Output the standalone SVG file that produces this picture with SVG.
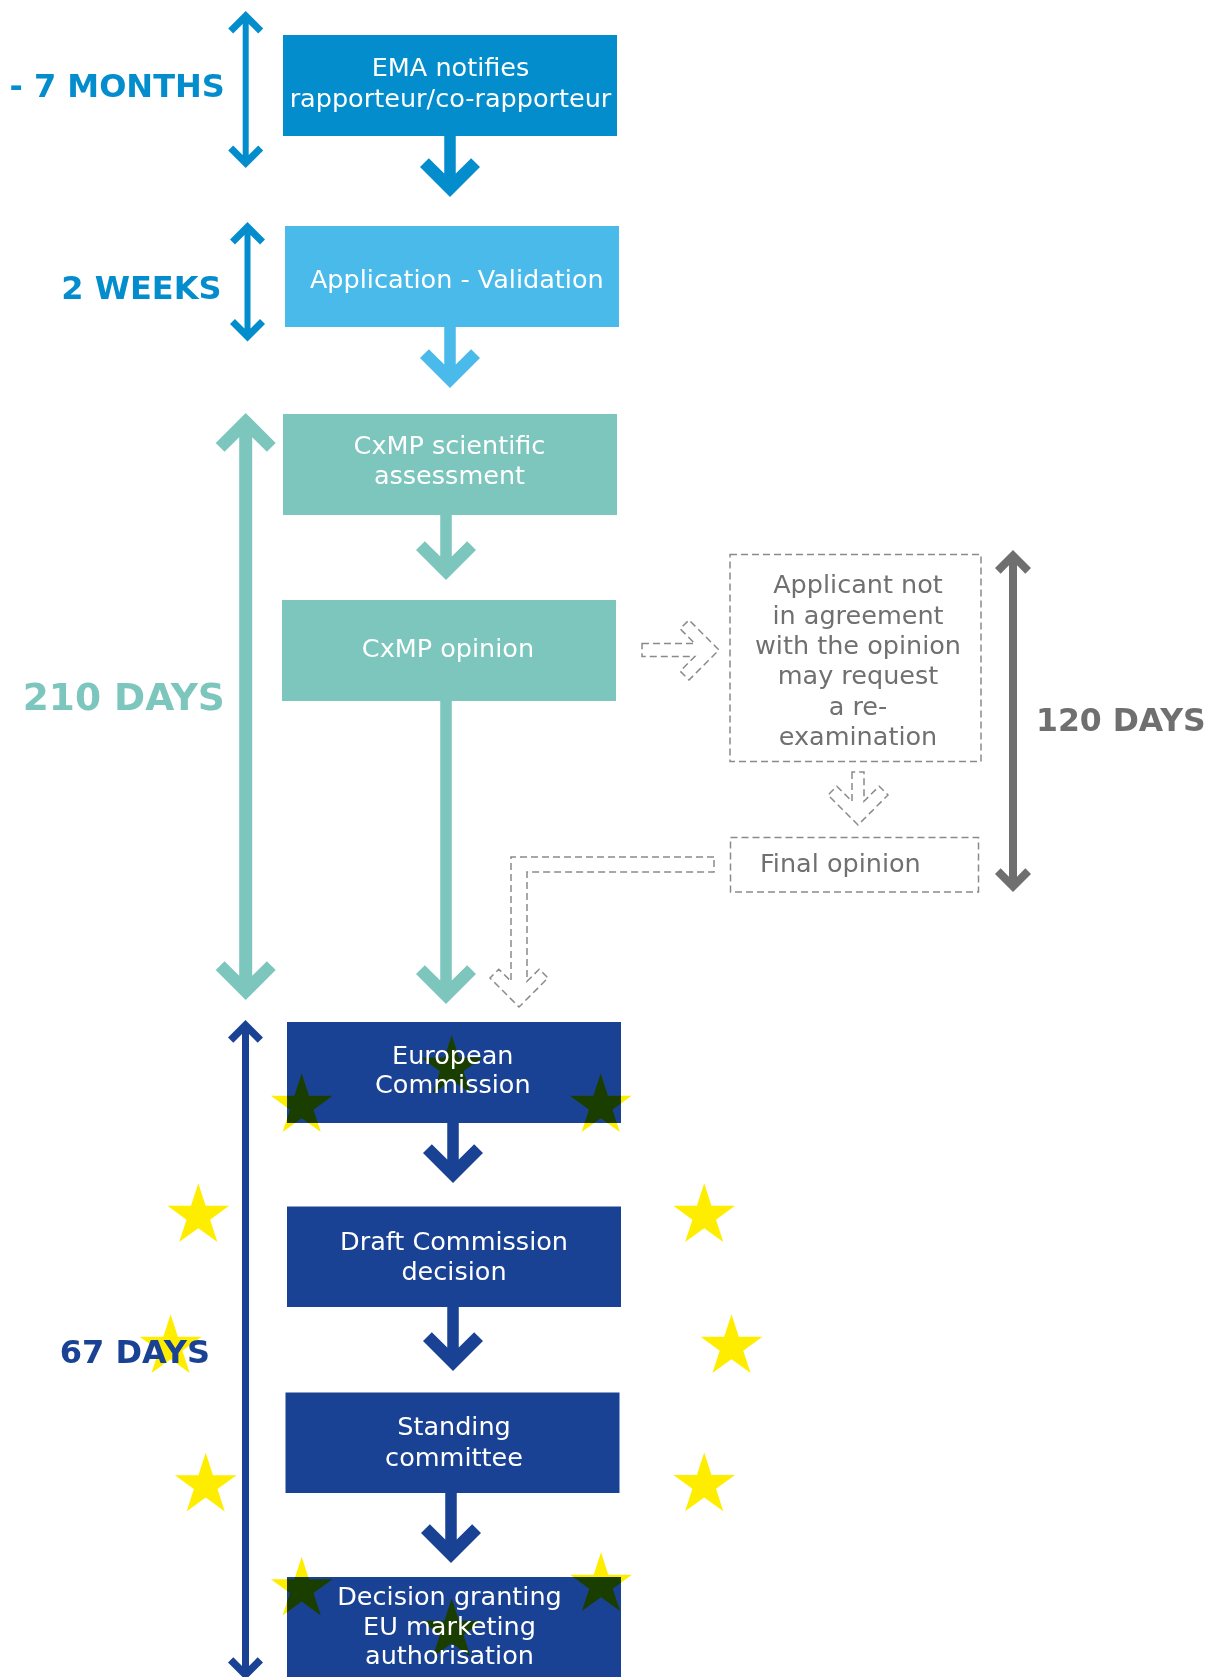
<svg xmlns="http://www.w3.org/2000/svg" xmlns:xlink="http://www.w3.org/1999/xlink" width="1218" height="1677" viewBox="0 0 1218 1677">
<style>
  .box-text { font-family: "DejaVu Sans", Verdana, sans-serif; font-size: 25.5px; fill: #ffffff; text-anchor: middle; }
  .dash-text { font-family: "DejaVu Sans", Verdana, sans-serif; font-size: 25.5px; fill: #707070; }
  .label { font-family: "DejaVu Sans", Verdana, sans-serif; font-weight: bold; }
  .blue { fill: #048dcd; }
  .lblue { fill: #49baea; }
  .teal { fill: #7cc6bd; }
  .navy { fill: #1a4294; }
  .grey { fill: #6f6f6f; }
  .dashed { fill: none; stroke: #8a8a8a; stroke-width: 1.5; stroke-dasharray: 7 4; }
  .star { fill: #ffed00; mix-blend-mode: multiply; }
</style>
<defs>
  <path id="star" d="M0,-32.5 L7.29,-10.04 L30.91,-10.04 L11.8,3.83 L19.1,26.29 L0,12.41 L-19.1,26.29 L-11.8,3.83 L-30.91,-10.04 L-7.29,-10.04 Z"/>
</defs>
<rect x="0" y="0" width="1218" height="1677" fill="#ffffff"/>

<g id="connectors">
  <!-- timeline double arrows -->
  <path class="blue" d="M245.7,11 L263.2,28.5 L258.25,33.45 L248.7,23.9 L248.7,155.1 L258.25,145.55 L263.2,150.5 L245.7,168 L228.2,150.5 L233.15,145.55 L242.7,155.1 L242.7,23.9 L233.15,33.45 L228.2,28.5 Z"/>
  <path class="blue" d="M247.5,222 L265,239.5 L260.05,244.45 L250.5,234.9 L250.5,328.6 L260.05,319.05 L265,324 L247.5,341.5 L230,324 L234.95,319.05 L244.5,328.6 L244.5,234.9 L234.95,244.45 L230,239.5 Z"/>
  <path class="teal" d="M245.7,413 L275.7,443 L266.86,451.84 L252.2,437.18 L252.2,975.82 L266.86,961.16 L275.7,970 L245.7,1000 L215.7,970 L224.54,961.16 L239.2,975.82 L239.2,437.18 L224.54,451.84 L215.7,443 Z"/>
  <path class="navy" d="M245.5,1020 L263,1037.5 L257.7,1042.8 L249,1034.1 L249,1665.9 L257.7,1657.2 L263,1662.5 L245.5,1680 L228,1662.5 L233.3,1657.2 L242,1665.9 L242,1034.1 L233.3,1042.8 L228,1037.5 Z"/>
  <path class="grey" d="M1013,550 L1031,568 L1025.34,573.66 L1017,565.31 L1017,876.69 L1025.34,868.34 L1031,874 L1013,892 L995,874 L1000.66,868.34 L1009,876.69 L1009,565.31 L1000.66,573.66 L995,568 Z"/>
  <!-- flow arrows -->
  <path class="blue" d="M444.25,135 L444.25,173.57 L428.84,158.16 L420,167 L450,197 L480,167 L471.16,158.16 L455.75,173.57 L455.75,135 Z"/>
  <path class="lblue" d="M444.25,326 L444.25,364.57 L428.84,349.16 L420,358 L450,388 L480,358 L471.16,349.16 L455.75,364.57 L455.75,326 Z"/>
  <path class="teal" d="M440.25,514 L440.25,556.57 L424.84,541.16 L416,550 L446,580 L476,550 L467.16,541.16 L451.75,556.57 L451.75,514 Z"/>
  <path class="teal" d="M440.25,700 L440.25,980.57 L424.84,965.16 L416,974 L446,1004 L476,974 L467.16,965.16 L451.75,980.57 L451.75,700 Z"/>
  <path class="navy" d="M447.25,1122 L447.25,1159.57 L431.84,1144.16 L423,1153 L453,1183 L483,1153 L474.16,1144.16 L458.75,1159.57 L458.75,1122 Z"/>
  <path class="navy" d="M447.25,1306 L447.25,1347.57 L431.84,1332.16 L423,1341 L453,1371 L483,1341 L474.16,1332.16 L458.75,1347.57 L458.75,1306 Z"/>
  <path class="navy" d="M445.25,1492 L445.25,1539.57 L429.84,1524.16 L421,1533 L451,1563 L481,1533 L472.16,1524.16 L456.75,1539.57 L456.75,1492 Z"/>
  <!-- dashed optional arrows -->
  <path class="dashed" d="M642,643.5 L694.8,643.5 L680.2,628.8 L689,620 L719,650 L689,680 L680.2,671.2 L694.8,656.5 L642,656.5 Z"/>
  <path class="dashed" d="M852,772 L852,801.3 L836.8,786.2 L828,795 L858,825 L888,795 L879.2,786.2 L864,801.3 L864,772 Z"/>
  <path class="dashed" d="M714,857 L511,857 L511,981.3 L498.8,969.2 L490,978 L519,1007 L548,978 L539.2,969.2 L527,981.3 L527,872 L714,872 Z"/>
</g>

<g id="stars-outer">
  <use href="#star" class="star" x="704.2" y="1215.8"/>
  <use href="#star" class="star" x="198.3" y="1215.8"/>
  <use href="#star" class="star" x="731.5" y="1346.8"/>
  <use href="#star" class="star" x="170.6" y="1346.8"/>
  <use href="#star" class="star" x="704.2" y="1485"/>
  <use href="#star" class="star" x="205.7" y="1485.2"/>
</g>

<g id="node-ema">
  <rect x="283" y="35" width="334" height="101" class="blue"/>
  <text class="box-text" x="450.5" y="76">EMA notifies</text>
  <text class="box-text" x="450.5" y="107">rapporteur/co-rapporteur</text>
</g>
<g id="node-validation">
  <rect x="285" y="226" width="334" height="101" class="lblue"/>
  <text class="box-text" x="456.8" y="288.4">Application - Validation</text>
</g>
<g id="node-assessment">
  <rect x="283" y="414" width="334" height="101" class="teal"/>
  <text class="box-text" x="449.5" y="453.5">CxMP scientific</text>
  <text class="box-text" x="449.5" y="484">assessment</text>
</g>
<g id="node-opinion">
  <rect x="282" y="600" width="334" height="101" class="teal"/>
  <text class="box-text" x="448" y="657.3">CxMP opinion</text>
</g>
<g id="node-reexamination">
  <rect x="730" y="554.5" width="251" height="207" class="dashed"/>
  <text class="dash-text" text-anchor="middle" x="858" y="593.3">Applicant not</text>
  <text class="dash-text" text-anchor="middle" x="858" y="623.6">in agreement</text>
  <text class="dash-text" text-anchor="middle" x="858" y="653.9">with the opinion</text>
  <text class="dash-text" text-anchor="middle" x="858" y="684.2">may request</text>
  <text class="dash-text" text-anchor="middle" x="858" y="714.5">a re-</text>
  <text class="dash-text" text-anchor="middle" x="858" y="744.8">examination</text>
</g>
<g id="node-final-opinion">
  <rect x="730.5" y="837.5" width="248" height="54.5" class="dashed"/>
  <text class="dash-text" x="760" y="871.7">Final opinion</text>
</g>
<g id="node-commission">
  <rect x="287" y="1022" width="334" height="101" class="navy"/>
  <use href="#star" class="star" x="451.7" y="1067.5"/>
  <use href="#star" class="star" x="600.7" y="1105.8"/>
  <use href="#star" class="star" x="301.7" y="1105.8"/>
  <text class="box-text" x="452.8" y="1064">European</text>
  <text class="box-text" x="452.8" y="1093.3">Commission</text>
</g>
<g id="node-draft">
  <rect x="287" y="1206.5" width="334" height="100.5" class="navy"/>
  <text class="box-text" x="454" y="1249.5">Draft Commission</text>
  <text class="box-text" x="454" y="1279.5">decision</text>
</g>
<g id="node-standing">
  <rect x="285.5" y="1392.5" width="334" height="100.5" class="navy"/>
  <text class="box-text" x="454" y="1435">Standing</text>
  <text class="box-text" x="454" y="1466">committee</text>
</g>
<g id="node-decision">
  <rect x="287" y="1577" width="334" height="110" class="navy"/>
  <use href="#star" class="star" x="601" y="1584.8"/>
  <use href="#star" class="star" x="301.7" y="1589.2"/>
  <use href="#star" class="star" x="451.7" y="1630.8"/>
  <text class="box-text" x="449.5" y="1605">Decision granting</text>
  <text class="box-text" x="449.5" y="1635">EU marketing</text>
  <text class="box-text" x="449.5" y="1664">authorisation</text>
</g>

<g id="labels">
  <text class="label blue" x="224.8" y="96.7" font-size="32" text-anchor="end">- 7 MONTHS</text>
  <text class="label blue" x="221.5" y="299.3" font-size="32" text-anchor="end">2 WEEKS</text>
  <text class="label teal" x="224.8" y="710" font-size="37.5" text-anchor="end">210 DAYS</text>
  <text class="label grey" x="1036" y="730.7" font-size="31.5">120 DAYS</text>
  <text class="label navy" x="210" y="1362.7" font-size="32" text-anchor="end">67 DAYS</text>
</g>
</svg>
